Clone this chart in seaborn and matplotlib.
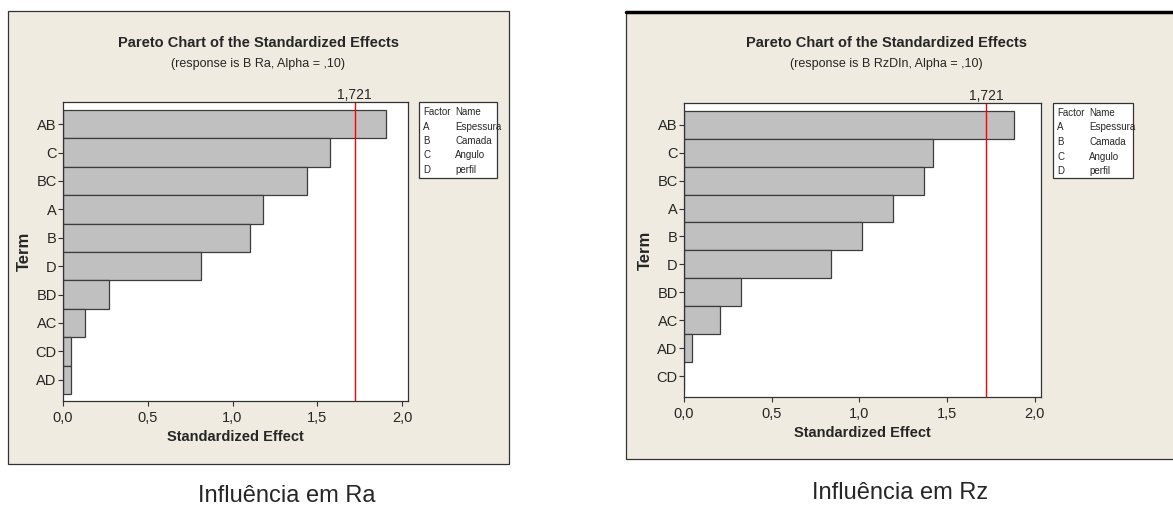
import pandas as pd
import matplotlib
matplotlib.use("Agg")
import matplotlib.pyplot as plt
import seaborn as sns
from matplotlib.patches import Rectangle

# ----------------------------------------------------------
# Data
# ----------------------------------------------------------
terms_ra = ["AB", "C", "BC", "A", "B", "D", "BD", "AC", "CD", "AD"]
effects_ra = [1.906, 1.575, 1.437, 1.178, 1.103, 0.816, 0.273, 0.130, 0.049, 0.045]

terms_rz = ["AB", "C", "BC", "A", "B", "D", "BD", "AC", "AD", "CD"]
effects_rz = [1.882, 1.417, 1.369, 1.193, 1.016, 0.838, 0.323, 0.203, 0.046, 0.0]

critical = 1.721
xticks = [0.0, 0.5, 1.0, 1.5, 2.0]
xtick_labels = ["0,0", "0,5", "1,0", "1,5", "2,0"]

factors = ["A", "B", "C", "D"]
factor_names = ["Espessura", "Camada", "Angulo", "perfil"]

subtitles = ["(response is B Ra, Alpha = ,10)", "(response is B RzDIn, Alpha = ,10)"]
captions = ["Influência em Ra", "Influência em Rz"]

sns.set_style("white")
plt.rcParams["font.family"] = ["Liberation Sans", "DejaVu Sans"]

W, H = 1173, 511
BG = "#F0EBE1"
fig = plt.figure(figsize=(W / 100, H / 100), dpi=100)
fig.patch.set_facecolor("white")


def fx(x):
    return x / W


def fy(y):
    return 1 - y / H


def panel(terms, effects, frame, ax_box, legend_box, title_x, subtitle, caption, cap_xy, thick_top):
    fl, ft, fr, fb = frame
    fig.patches.append(Rectangle((fx(fl), fy(fb)), fx(fr - fl), (fb - ft) / H,
                                 transform=fig.transFigure, facecolor=BG,
                                 edgecolor="#333333", linewidth=0.9, zorder=-5))
    if thick_top:
        fig.add_artist(plt.Line2D([fx(fl), fx(fr)], [fy(ft), fy(ft)],
                                  transform=fig.transFigure, color="black", lw=2.5))

    l, t, r, b = ax_box
    ax = fig.add_axes([fx(l), fy(b), fx(r - l), (b - t) / H])
    ax.set_zorder(3)
    df = pd.DataFrame({"Term": terms, "Effect": effects})
    sns.barplot(data=df, x="Effect", y="Term", orient="h", order=terms,
                color="#C0C0C0", saturation=1, width=1.0,
                edgecolor="#3C3C3C", linewidth=0.9, ax=ax)
    ax.set_facecolor("white")
    ax.set_xlim(0, 2.035)
    ax.set_ylim(9.5 + 0.25, -0.5 - 0.28)
    ax.axvline(critical, color="red", lw=1)
    ax.text(critical, -0.5 - 0.28, "1,721", ha="center", va="bottom",
            fontsize=10, transform=ax.transData, clip_on=False)
    ax.set_xticks(xticks)
    ax.set_xticklabels(xtick_labels, fontsize=10.5)
    ax.tick_params(axis="y", labelsize=10.5)
    ax.tick_params(axis="both", direction="out", length=3.5, width=0.8,
                   color="#333333", bottom=True, left=True)
    ax.tick_params(axis="x", pad=4)
    ax.tick_params(axis="y", pad=1)
    for s in ax.spines.values():
        s.set_color("#333333")
        s.set_linewidth(0.9)
    ax.set_xlabel("Standardized Effect", fontsize=10.5, fontweight="bold", labelpad=3)
    ax.set_ylabel("Term", fontsize=12, fontweight="bold", labelpad=3)

    fig.text(fx(title_x), fy(43), "Pareto Chart of the Standardized Effects",
             ha="center", va="center", fontsize=10.5, fontweight="bold")
    fig.text(fx(title_x), fy(64), subtitle, ha="center", va="center", fontsize=9)

    ll, lt, lr, lb = legend_box
    fig.patches.append(Rectangle((fx(ll), fy(lb)), fx(lr - ll), (lb - lt) / H,
                                 transform=fig.transFigure, facecolor="white",
                                 edgecolor="#333333", linewidth=0.9, zorder=1))
    rows = [("Factor", "Name")] + list(zip(factors, factor_names))
    for i, (a, n) in enumerate(rows):
        yy = lt + 10 + i * 14.5
        fig.text(fx(ll + 4), fy(yy), a, fontsize=7, va="center", zorder=2)
        fig.text(fx(ll + 36), fy(yy), n, fontsize=7, va="center", zorder=2)

    fig.text(fx(cap_xy[0]), fy(cap_xy[1]), caption, ha="center", va="center",
             fontsize=17)
    return ax


panel(terms_ra, effects_ra, (8, 11, 509, 464), (63, 102, 408, 401),
      (419, 102, 497, 178), 258, subtitles[0], captions[0], (287, 496), False)
panel(terms_rz, effects_rz, (626, 12, 1185, 459), (684, 103, 1041, 397),
      (1053, 103, 1133, 178), 886, subtitles[1], captions[1], (900, 493), True)

fig.savefig("out.png", dpi=100, facecolor="white")
